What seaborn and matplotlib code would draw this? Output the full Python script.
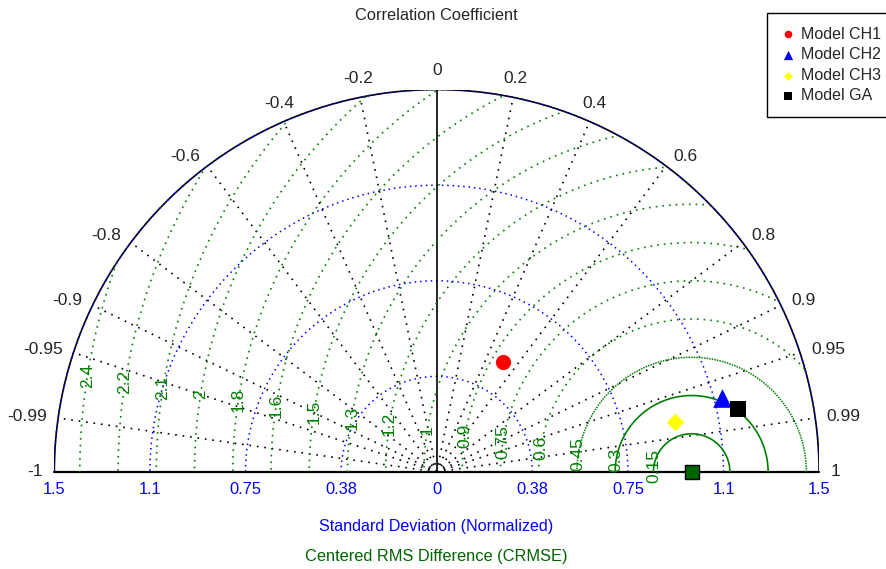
import numpy as np
import pandas as pd
import seaborn as sns
import matplotlib.pyplot as plt
from matplotlib.patches import Circle

# normalized statistics
models = ["Model CH1", "Model CH2", "Model CH3", "Model GA"]
std_norm = [0.503, 1.155, 0.954, 1.208]
corr = [0.519, 0.968, 0.979, 0.979]
colors = ["red", "blue", "yellow", "black"]
markers = ["o", "^", "D", "s"]
sizes = [120, 180, 80, 125]
ref_std = 1.0

std_ticks = [0.375, 0.75, 1.125, 1.5]
std_tick_labels = ["0.38", "0.75", "1.1", "1.5"]
corr_ticks = [0.2, 0.4, 0.6, 0.8, 0.9, 0.95, 0.99]
corr_tick_labels = ["0.2", "0.4", "0.6", "0.8", "0.9", "0.95", "0.99"]
rms_levels = [0.15, 0.3, 0.45, 0.6, 0.75, 0.9, 1.05, 1.2, 1.35, 1.5,
              1.65, 1.8, 1.95, 2.1, 2.25, 2.4]
rms_labels = ["0.15", "0.3", "0.45", "0.6", "0.75", "0.9", "1", "1.2", "1.3",
              "1.5", "1.6", "1.8", "2", "2.1", "2.2", "2.4"]

sns.set_style("white")
plt.rcParams['font.family'] = ['Liberation Sans', 'DejaVu Sans']

fig = plt.figure(figsize=(8.86, 5.69), dpi=100)
ax = fig.add_axes([54.3 / 886, 97 / 569, 764.8 / 886, 382.4 / 569])
ax.set_xlim(-1.5, 1.5)
ax.set_ylim(0, 1.5)
ax.axis('off')

rmax = std_ticks[-1]
th = np.linspace(0, np.pi, 400)

# std circles
for r in std_ticks[:-1]:
    ax.plot(r * np.cos(th), r * np.sin(th), color='blue', lw=1.1,
            ls=(0, (1, 2.5)))
ax.plot(rmax * np.cos(th), rmax * np.sin(th), color='black', lw=1.2)
ax.plot(rmax * np.cos(th), rmax * np.sin(th), color='blue', lw=1.1,
        ls=(0, (1, 2.5)))

# correlation rays
for c in corr_ticks:
    for s in (1, -1):
        a = np.arccos(s * c)
        ax.plot([0, rmax * np.cos(a)], [0, rmax * np.sin(a)], color='black',
                lw=1.2, ls=(0, (1, 3.5)))
ax.plot([0, 0], [0, rmax], color='black', lw=1.2)
ax.plot([-rmax, rmax], [0, 0], color='black', lw=1.6, clip_on=False)

# correlation labels
lab_r = 1.545
all_c = [0] + corr_ticks + [1] + [-c for c in corr_ticks] + [-1]
all_l = ["0"] + corr_tick_labels + ["1"] + ["-" + l for l in corr_tick_labels] + ["-1"]
for c, l in zip(all_c, all_l):
    a = np.arccos(c)
    x, y = lab_r * np.cos(a), lab_r * np.sin(a)
    if abs(c) <= 0.4:
        ax.text(x, y, l, ha='center', va='bottom', fontsize=12.5)
    elif c > 0:
        ax.text(x, y, l, ha='left', va='center', fontsize=12.5)
    else:
        ax.text(x, y, l, ha='right', va='center', fontsize=12.5)

# centered RMS circles around the reference
clip = Circle((0, 0), rmax, transform=ax.transData)
for r, l in zip(rms_levels, rms_labels):
    if r < 0.4:
        ls, lw = '-', 1.2
    elif r < 0.5:
        ls, lw = (0, (1, 0.7)), 1.1
    else:
        ls, lw = (0, (1, 3)), 1.2
    line, = ax.plot(ref_std + r * np.cos(th), r * np.sin(th), color='green',
                    lw=lw, ls=ls)
    line.set_clip_path(clip)
    a = np.deg2rad(171)
    ax.text(ref_std + r * np.cos(a), r * np.sin(a), l, rotation=90,
            ha='center', va='center', color='green', fontsize=12.5)

# std tick labels
for t, l in zip(std_ticks, std_tick_labels):
    for s in (1, -1):
        ax.text(s * t, -0.068, l, ha='center', va='center', color='blue',
                fontsize=11.8)
ax.text(0, -0.068, "0", ha='center', va='center', color='blue', fontsize=11.8)

# model points
for m, sd, c, col, mk, sz in zip(models, std_norm, corr, colors, markers, sizes):
    a = np.arccos(c)
    sns.scatterplot(x=[sd * np.cos(a)], y=[sd * np.sin(a)], color=col,
                    marker=mk, s=sz, linewidth=0, label=m, ax=ax,
                    zorder=6, clip_on=False, legend=False)
sns.scatterplot(x=[ref_std], y=[0], color='#006400', marker='s', s=110,
                edgecolor='black', linewidth=1, ax=ax, zorder=6,
                clip_on=False, legend=False)

handles, labels = ax.get_legend_handles_labels()
leg = ax.legend(handles[:4], labels[:4], loc='upper left',
                bbox_to_anchor=(767 / 886, 1 - 13 / 569),
                bbox_transform=fig.transFigure, fontsize=11.5, markerscale=0.5,
                frameon=True, fancybox=False, framealpha=1, edgecolor='black',
                handletextpad=0.35, labelspacing=0.35, borderpad=0.85,
                handlelength=0.9, borderaxespad=0)
leg.get_frame().set_linewidth(1)

fig.text(436 / 886, 1 - 15 / 569, "Correlation Coefficient", ha='center',
         va='center', fontsize=11.8)
fig.text(436 / 886, 1 - 527 / 569, "Standard Deviation (Normalized)",
         ha='center', va='center', color='blue', fontsize=11.6)
fig.text(436 / 886, 1 - 557 / 569, "Centered RMS Difference (CRMSE)",
         ha='center', va='center', color='#006400', fontsize=11.8)

fig.savefig("out.png", dpi=100)
